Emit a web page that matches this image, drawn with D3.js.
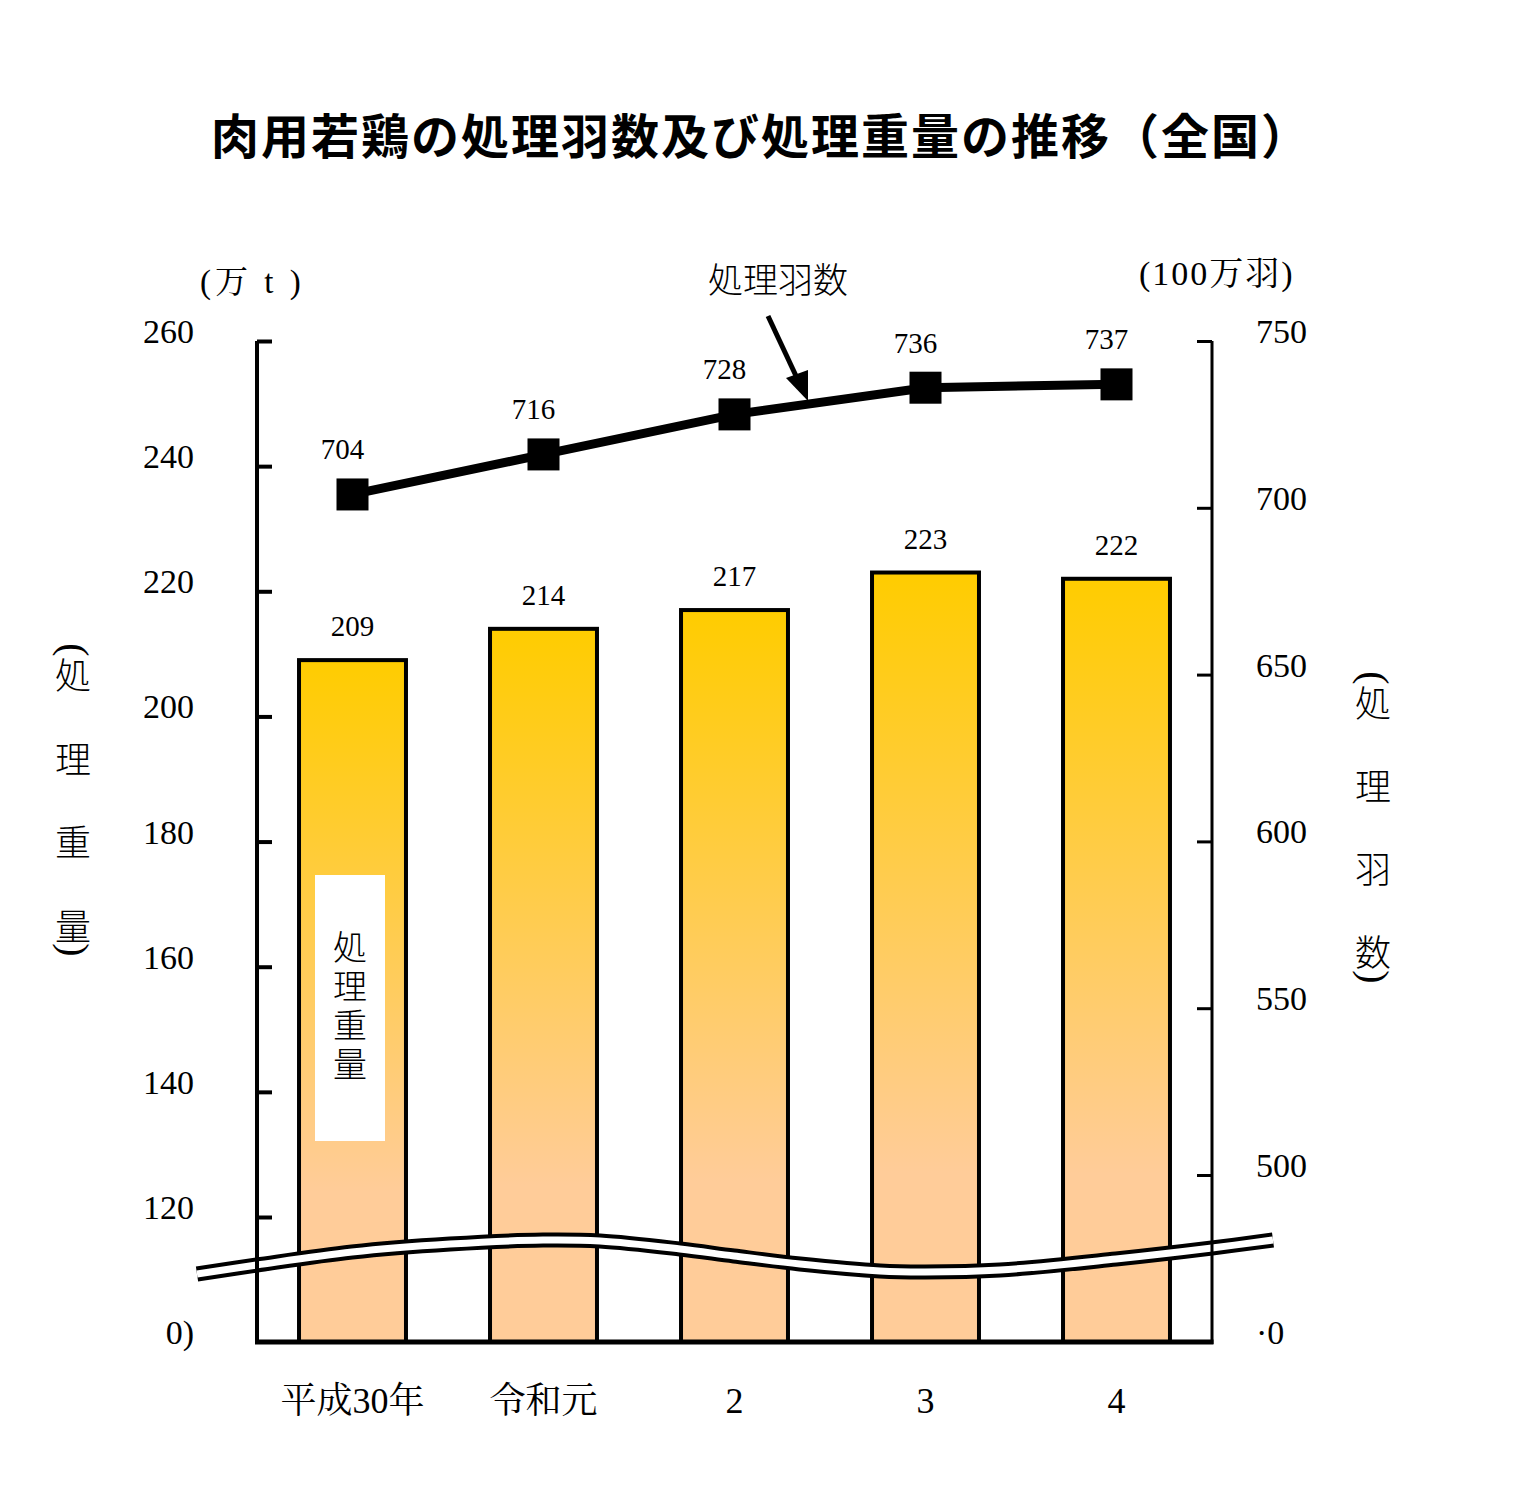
<!DOCTYPE html>
<html>
<head>
<meta charset="utf-8">
<script src="https://cdn.jsdelivr.net/npm/d3@7/dist/d3.min.js"></script>
<style>
  html, body { margin: 0; padding: 0; background: #fff; }
  svg { display: block; }
  .serif { font-family: "Liberation Serif", "Noto Serif CJK JP", "Noto Sans CJK JP", serif; }
  .cjk { font-family: "Noto Sans CJK JP", sans-serif; }
</style>
</head>
<body>
<svg id="chart" width="1522" height="1485"></svg>
<script>
// ---- data ----
const categories = ["平成30年", "令和元", "2", "3", "4"];
const weightValues = [209, 214, 217, 223, 222];   // 処理重量 (万t)
const birdValues = [704, 716, 728, 736, 737];     // 処理羽数 (100万羽)
const leftTicks = [120, 140, 160, 180, 200, 220, 240, 260];
const rightTicks = [500, 550, 600, 650, 700, 750];
const titleText = "肉用若鶏の処理羽数及び処理重量の推移（全国）";

// ---- layout ----
const svg = d3.select("#chart");
const X0 = 257, X1 = 1212, YB = 1342;

const x = d3.scaleBand().domain(categories).range([X0, X1]).paddingInner(0.44).paddingOuter(0.22);
const yL = d3.scaleLinear().domain([0, 120, 260]).range([YB, 1217, 341]);
const yR = d3.scaleLinear().domain([0, 500, 750]).range([YB, 1175, 341]);

// gradient
const defs = svg.append("defs");
const grad = defs.append("linearGradient").attr("id", "barGrad")
  .attr("x1", 0).attr("y1", 0).attr("x2", 0).attr("y2", 1);
grad.append("stop").attr("offset", "0").attr("stop-color", "#FFCC00");
grad.append("stop").attr("offset", "0.78").attr("stop-color", "#FFCC99");
grad.append("stop").attr("offset", "1").attr("stop-color", "#FFCC99");

// title
svg.append("text").attr("class", "cjk")
  .attr("x", 761).attr("y", 154)
  .attr("text-anchor", "middle")
  .attr("font-size", 48).attr("font-weight", 600)
  .attr("letter-spacing", 2)
  .text(titleText);

// bars
const bw = x.bandwidth();
svg.append("g").selectAll("rect").data(weightValues).join("rect")
  .attr("x", (d, i) => x(categories[i]))
  .attr("y", d => yL(d))
  .attr("width", bw)
  .attr("height", d => YB - yL(d))
  .attr("fill", "url(#barGrad)")
  .attr("stroke", "#000").attr("stroke-width", 4);

// bar value labels
svg.append("g").selectAll("text").data(weightValues).join("text")
  .attr("class", "serif")
  .attr("x", (d, i) => x(categories[i]) + bw / 2)
  .attr("y", d => yL(d) - 24)
  .attr("text-anchor", "middle").attr("font-size", 29)
  .text(d => d);

// in-bar label box
const lb = svg.append("g");
lb.append("rect").attr("x", 315).attr("y", 875).attr("width", 70).attr("height", 266).attr("fill", "#fff");
lb.append("text").attr("class", "cjk")
  .attr("x", 350).attr("y", 930)
  .style("writing-mode", "vertical-rl")
  .attr("letter-spacing", 5)
  .attr("font-size", 34).attr("font-weight", 300).text("処理重量");

// break wave (axis break marker)
const wave = [[197,1274],[257,1265],[352,1252],[450,1244],[543,1240],[600,1241],[680,1249],[734,1256],[800,1264],[880,1271],[925,1272],[1000,1270],[1116,1259],[1212,1248],[1273,1240]];
const waveLine = d3.line().curve(d3.curveCatmullRom);
svg.append("path").attr("d", waveLine(wave)).attr("fill", "none").attr("stroke", "#000").attr("stroke-width", 15);
svg.append("path").attr("d", waveLine(wave)).attr("fill", "none").attr("stroke", "#fff").attr("stroke-width", 7);

// axes lines
svg.append("line").attr("x1", X0).attr("x2", X0).attr("y1", 341).attr("y2", YB + 2).attr("stroke", "#000").attr("stroke-width", 4);
svg.append("line").attr("x1", X1).attr("x2", X1).attr("y1", 341).attr("y2", YB + 2).attr("stroke", "#000").attr("stroke-width", 3);
svg.append("line").attr("x1", X0 - 2).attr("x2", X1 + 1.5).attr("y1", YB).attr("y2", YB).attr("stroke", "#000").attr("stroke-width", 5);

// left ticks (inside)
const gL = svg.append("g").attr("transform", `translate(${X0},0)`)
  .call(d3.axisRight(yL).tickValues(leftTicks).tickSize(15).tickFormat(""));
gL.select(".domain").remove();
gL.selectAll(".tick line").attr("stroke", "#000").attr("stroke-width", 4);

// right ticks (inside)
const gR = svg.append("g").attr("transform", `translate(${X1},0)`)
  .call(d3.axisLeft(yR).tickValues(rightTicks).tickSize(15).tickFormat(""));
gR.select(".domain").remove();
gR.selectAll(".tick line").attr("stroke", "#000").attr("stroke-width", 3);

// tick labels
svg.append("g").selectAll("text").data(leftTicks).join("text")
  .attr("class", "serif").attr("x", 194).attr("y", d => yL(d) + 2)
  .attr("text-anchor", "end").attr("font-size", 34).text(d => d);
svg.append("text").attr("class", "serif").attr("x", 194).attr("y", yL(0) + 2)
  .attr("text-anchor", "end").attr("font-size", 34).text("0)");
svg.append("g").selectAll("text").data(rightTicks).join("text")
  .attr("class", "serif").attr("x", 1256).attr("y", d => yR(d) + 2)
  .attr("text-anchor", "start").attr("font-size", 34).text(d => d);
svg.append("text").attr("class", "serif").attr("x", 1256).attr("y", yR(0) + 2)
  .attr("text-anchor", "start").attr("font-size", 34).text("·0");

// category labels
svg.append("g").selectAll("text").data(categories).join("text")
  .attr("class", "serif").attr("x", d => x(d) + bw / 2).attr("y", 1413)
  .attr("text-anchor", "middle").attr("font-size", 36).text(d => d);

// units
svg.append("text").attr("class", "serif").attr("x", 200).attr("y", 293)
  .attr("font-size", 33).attr("letter-spacing", 4).text("(万 t )");
svg.append("text").attr("class", "serif").attr("x", 1139).attr("y", 285)
  .attr("font-size", 34).attr("letter-spacing", 2).text("(100万羽)");

// vertical axis titles
function vtitle(cx, chars, y0, step, topY, bottomY) {
  const g = svg.append("g");
  g.append("text").attr("class", "serif")
    .attr("transform", `translate(${cx},${topY}) rotate(90)`)
    .attr("text-anchor", "middle").attr("dy", "0.3em")
    .attr("font-size", 40).text("(");
  chars.forEach((c, i) => {
    g.append("text").attr("class", "cjk").attr("x", cx).attr("y", y0 + i * step)
      .attr("text-anchor", "middle").attr("font-size", 36).attr("font-weight", 300).text(c);
  });
  g.append("text").attr("class", "serif")
    .attr("transform", `translate(${cx},${bottomY}) rotate(90)`)
    .attr("text-anchor", "middle").attr("dy", "0.3em")
    .attr("font-size", 40).text(")");
}
vtitle(73, ["処", "理", "重", "量"], 689, 83.5, 650, 950);
vtitle(1373, ["処", "理", "羽", "数"], 717, 83, 678, 977);

// line series
const line = d3.line().x((d, i) => x(categories[i]) + bw / 2).y(d => yR(d));
svg.append("path").attr("d", line(birdValues)).attr("fill", "none")
  .attr("stroke", "#000").attr("stroke-width", 9);
svg.append("g").selectAll("rect").data(birdValues).join("rect")
  .attr("x", (d, i) => x(categories[i]) + bw / 2 - 16)
  .attr("y", d => yR(d) - 16)
  .attr("width", 32).attr("height", 32).attr("fill", "#000");
svg.append("g").selectAll("text").data(birdValues).join("text")
  .attr("class", "serif")
  .attr("x", (d, i) => x(categories[i]) + bw / 2 - 10)
  .attr("y", d => yR(d) - 35)
  .attr("text-anchor", "middle").attr("font-size", 29).text(d => d);

// annotation
svg.append("text").attr("class", "cjk").attr("x", 778).attr("y", 293)
  .attr("text-anchor", "middle").attr("font-size", 35).attr("font-weight", 300).text("処理羽数");
svg.append("line").attr("x1", 768).attr("y1", 316).attr("x2", 797).attr("y2", 378)
  .attr("stroke", "#000").attr("stroke-width", 5);
svg.append("path").attr("d", "M808,401 L786,378 L808,370 Z").attr("fill", "#000");
</script>
</body>
</html>
